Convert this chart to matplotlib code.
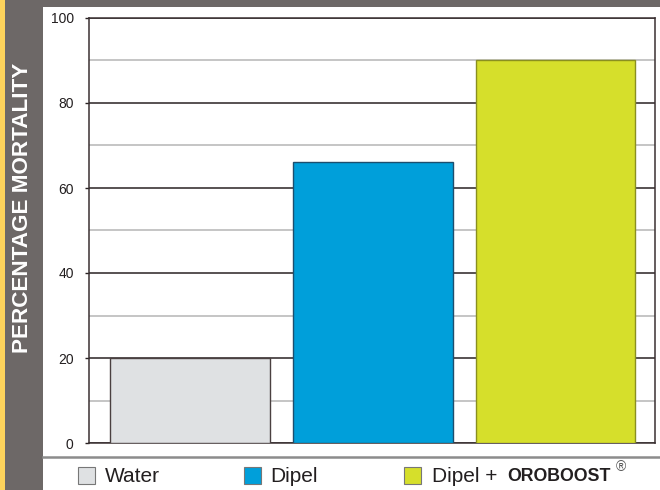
import matplotlib
matplotlib.use("Agg")
import matplotlib.pyplot as plt
from matplotlib.patches import Rectangle

# data
groups = ["Water", "Dipel", "Dipel +"]
brand = "OROBOOST"
mortality = [20, 66, 90]
colors = ["#dfe1e3", "#009fda", "#d6df2b"]
edges = ["#4a4040", "#1d4e6e", "#8a8f20"]
major_ticks = [0, 20, 40, 60, 80, 100]
minor_ticks = [10, 30, 50, 70, 90]

plt.rcParams['font.family'] = ['Liberation Sans', 'DejaVu Sans']

fig = plt.figure(figsize=(6.6, 4.9), dpi=100)
fig.patch.set_facecolor("white")

# frame: yellow strip, grey side band, grey top band
fig.patches.append(Rectangle((0, 0), 43 / 660, 1, transform=fig.transFigure,
                             facecolor="#6d6867", edgecolor="none", zorder=0))
fig.patches.append(Rectangle((0, 1 - 7 / 490), 1, 7 / 490, transform=fig.transFigure,
                             facecolor="#6d6867", edgecolor="none", zorder=0))
fig.patches.append(Rectangle((0, 0), 5 / 660, 1, transform=fig.transFigure,
                             facecolor="#fdd35c", edgecolor="none", zorder=1))
# legend separator
fig.add_artist(plt.Line2D([43 / 660, 1], [1 - 457 / 490, 1 - 457 / 490],
                          transform=fig.transFigure, color="#8c8c8c", lw=1.8))

ax = fig.add_axes([89 / 660, 47 / 490, 566 / 660, 425 / 490])
x = range(len(groups))
ax.bar(x, mortality, width=0.874, color=colors, edgecolor=edges, linewidth=1.0, zorder=3)

ax.set_xlim(-0.552, 2.544)
ax.set_ylim(0, 100)
ax.set_xticks([])
ax.set_yticks(major_ticks)
ax.set_yticks(minor_ticks, minor=True)
ax.tick_params(axis="y", which="major", length=3, width=1, color="#2a2223",
               labelsize=10, labelcolor="#231f20", pad=8)
ax.tick_params(axis="y", which="minor", length=0)
ax.grid(axis="y", which="major", color="#2a2223", lw=1.1, zorder=1)
ax.grid(axis="y", which="minor", color="#b5b5b5", lw=1.1, zorder=1)
for s in ax.spines.values():
    s.set_color("#3a3032")
    s.set_linewidth(1.1)

fig.text(23 / 660, 1 - 208 / 490, "PERCENTAGE MORTALITY", rotation=90,
         ha="center", va="center", color="white", fontsize=16.2,
         fontweight="bold")

# legend
sq_x = [78, 244, 404]
txt_x = [105, 270, 432]
ty = 1 - 476 / 490
texts = []
for i in range(len(groups)):
    fig.patches.append(Rectangle((sq_x[i] / 660, 1 - 484 / 490), 17 / 660, 17 / 490,
                                 transform=fig.transFigure, facecolor=colors[i],
                                 edgecolor="#777777", lw=0.8))
    texts.append(fig.text(txt_x[i] / 660, ty, groups[i], fontsize=15,
                          color="#231f20", va="center"))

fig.canvas.draw()
r = fig.canvas.get_renderer()
pb = texts[-1].get_window_extent(r)
b = fig.text((pb.x1 + 10) / 660, ty, brand, fontsize=12.8, color="#231f20",
             va="center", fontweight="bold")
bb = b.get_window_extent(r)
fig.text((bb.x1 + 5) / 660, 1 - 467 / 490, "\u00ae", fontsize=10, color="#555555",
         va="center")

fig.savefig("out.png", dpi=100)
